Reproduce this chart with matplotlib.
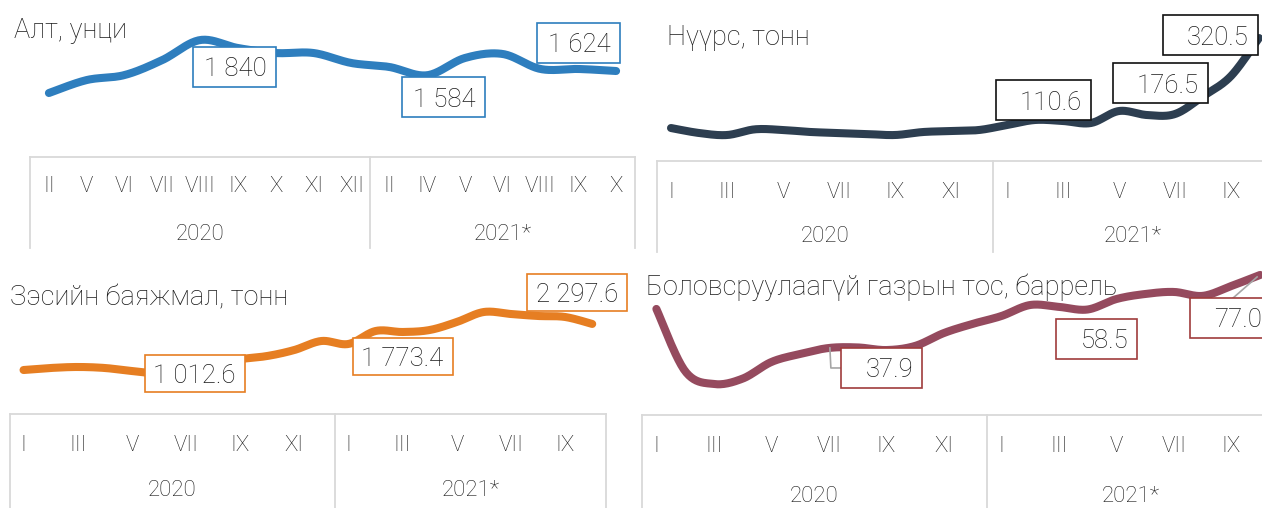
"""
Four small commodity price panels (gold, coal, copper concentrate, crude oil)
with smoothed lines, boxed value labels and a two-level month / year axis.
"""

import numpy as np
import matplotlib
matplotlib.use('Agg')
import matplotlib.pyplot as plt
from matplotlib.patches import Rectangle

# ---- data -------------------------------------------------------------
years = ['2020', '2021*']

gold_title = 'Алт, унци'
gold_months_2020 = ['II', 'V', 'VI', 'VII', 'VIII', 'IX', 'X', 'XI', 'XII']
gold_months_2021 = ['II', 'IV', 'V', 'VI', 'VIII', 'IX', 'X']
gold_values = [1417, 1539, 1586, 1727, 1915, 1840, 1793, 1793, 1699,
               1662, 1584, 1746, 1784, 1643, 1643, 1624]
gold_labeled = [5, 10, 15]

months_2020 = ['I', 'II', 'III', 'IV', 'V', 'VI', 'VII', 'VIII', 'IX', 'X', 'XI', 'XII']
months_2021 = ['I', 'II', 'III', 'IV', 'V', 'VI', 'VII', 'VIII', 'IX', 'X']

coal_title = 'Нүүрс, тонн'
coal_values = [98.2, 85.9, 80.9, 95.0, 93.3, 88.3, 85.9, 83.4, 80.9, 88.3, 90.8,
               93.3, 105.6, 118.0, 115.5, 110.6, 140.2, 130.3, 132.8, 176.5, 226.6, 320.5]
coal_labeled = [15, 19, 21]

copper_title = 'Зэсийн баяжмал, тонн'
copper_values = [1091, 1144, 1170, 1144, 1065, 1012.6, 1170, 1301, 1379, 1458, 1615,
                 1851, 1773.4, 2113, 2087, 2139, 2349, 2611, 2558, 2506, 2480, 2297.6]
copper_labeled = [5, 12, 21]

oil_title = 'Боловсруулаагүй газрын тос, баррель'
oil_values = [58.8, 25.5, 18.6, 21.5, 30.4, 34.7, 37.9, 38.2, 36.8, 39.0, 45.9,
              50.8, 55.0, 60.9, 59.9, 58.5, 64.1, 66.8, 67.9, 65.8, 71.1, 77.0]
oil_labeled = [6, 15, 21]

# ---- style ------------------------------------------------------------
W, H = 1262, 508
text_color = '#1a1a1a'
grid_color = '#d9d9d9'
leader_color = '#a6a6a6'
plt.rcParams['font.family'] = ['Roboto', 'DejaVu Sans']
plt.rcParams['font.weight'] = 'light'

fig = plt.figure(figsize=(W / 100, H / 100), dpi=100)
fig.patch.set_facecolor('white')


def px_axes(x0, y0, x1, y1):
    """Axes from image pixel box (y measured from the top)."""
    ax = fig.add_axes([x0 / W, 1 - y1 / H, (x1 - x0) / W, (y1 - y0) / H])
    ax.set_axis_off()
    return ax


def smooth(xs, ys, n=24):
    """Excel-like smoothed line (Catmull-Rom bezier through the points)."""
    pts = np.column_stack([xs, ys]).astype(float)
    p = np.vstack([pts[0], pts, pts[-1]])
    t = np.linspace(0, 1, n)[:, None]
    out = []
    for k in range(len(pts) - 1):
        p0, p1, p2, p3 = p[k], p[k + 1], p[k + 2], p[k + 3]
        c1 = p1 + (p2 - p0) / 6
        c2 = p2 - (p3 - p1) / 6
        seg = (1 - t) ** 3 * p1 + 3 * (1 - t) ** 2 * t * c1 + 3 * (1 - t) * t ** 2 * c2 + t ** 3 * p2
        out.append(seg if k == 0 else seg[1:])
    return np.vstack(out)


def fmt(v, dec):
    return f'{v:,.{dec}f}'.replace(',', ' ')


def draw_panel(title, values, m2020, m2021, color, box_color, x0, x1, ytop, ybot,
               vlim, table_top, table_bot, month_y, year_y, step, title_xy,
               labeled, offsets, box_w, box_h, dec, leaders=()):
    n = len(values)
    x = np.arange(n)

    # line area
    ax = px_axes(x0, ytop, x1, ybot)
    ax.set_xlim(-0.5, n - 0.5)
    ax.set_ylim(*vlim)
    curve = smooth(x, values)
    ax.plot(curve[:, 0], curve[:, 1], color=color, lw=5.8,
            solid_capstyle='round', clip_on=False, zorder=2)

    fig.text(title_xy[0] / W, 1 - title_xy[1] / H, title, fontsize=19.5,
             color=text_color, ha='left', va='baseline', fontweight='light')

    # value boxes
    for k, (i, (dx, dy)) in enumerate(zip(labeled, offsets)):
        px, py = ax.transData.transform((i, values[i]))
        cx, cy = px + dx, py - dy
        rect = Rectangle(((cx - box_w / 2) / W, (cy - box_h / 2) / H), box_w / W, box_h / H,
                         transform=fig.transFigure, facecolor='white',
                         edgecolor=box_color, lw=1.2, zorder=5)
        fig.add_artist(rect)
        fig.text((cx + box_w / 2 - 9) / W, cy / H, fmt(values[i], dec), fontsize=18.5,
                 color=text_color, ha='right', va='center_baseline', zorder=6,
                 fontweight='light')
        if k in leaders:
            if leaders[k] == 'down':
                xs = [px + 1, px + 2, cx - box_w / 2]
                ys = [py, cy, cy]
            else:
                xs = [cx + 3, px - 3]
                ys = [cy + box_h / 2, py - 2]
            fig.add_artist(plt.Line2D(np.array(xs) / W, np.array(ys) / H,
                                      transform=fig.transFigure, color=leader_color,
                                      lw=1.2, zorder=3))

    # category table
    n20 = len(m2020)
    ta = px_axes(x0, table_top, x1, table_bot)
    ta.set_xlim(-0.5, n - 0.5)
    ta.set_ylim(table_bot, table_top)
    ta.plot([-0.5, n - 0.5], [table_top, table_top], color=grid_color, lw=1.3, clip_on=False)
    for xv in (-0.5, n20 - 0.5, n - 0.5):
        ta.plot([xv, xv], [table_top, table_bot], color=grid_color, lw=1.3, clip_on=False)
    labels = list(m2020) + list(m2021)
    for i in range(0, n, step):
        ta.text(i, month_y, labels[i], fontsize=16, color=text_color,
                ha='center', va='center', fontweight='light')
    ta.text((n20 - 1) / 2, year_y, years[0], fontsize=16, color=text_color,
            ha='center', va='center', fontweight='light')
    ta.text(n20 + (n - n20 - 1) / 2, year_y, years[1], fontsize=16, color=text_color,
            ha='center', va='center', fontweight='light')


# gold (top left)
draw_panel(gold_title, gold_values, gold_months_2020, gold_months_2021,
           '#2e7ebe', '#2e7ebe', 30, 635, 20, 120, (1163.4, 2103.4),
           157, 248, 187, 234, 1, (14, 38),
           gold_labeled, [(-3.5, 18.5), (16, 22), (-38, -28.5)], 83, 40, 0)

# coal (top right)
draw_panel(coal_title, coal_values, months_2020, months_2021,
           '#2d3e50', '#111111', 657, 657 + 22 * 28, 20, 150, (43.9, 365.0),
           161, 252, 192, 237, 2, (667, 45),
           coal_labeled, [(-48, -22.5), (-43, -13), (-49, -3)], 95, 40, 1)

# copper concentrate (bottom left)
draw_panel(copper_title, copper_values, months_2020, months_2021,
           '#e67e22', '#e67e22', 10, 10 + 22 * 27.08, 270, 400, (305.2, 3711.0),
           414, 508, 445, 490, 2, (10, 305),
           copper_labeled, [(36, 0.5), (54, 13), (-15, -31)], 100, 37, 1)

# crude oil (bottom right)
draw_panel(oil_title, oil_values, months_2020, months_2021,
           '#954a5e', '#a03c3c', 642, 642 + 22 * 28.75, 260, 400, (10.05, 85.0),
           415, 508, 447, 497, 2, (646, 295),
           oil_labeled, [(53, 20), (9, 29.5), (-30, 43)], 81, 40, 1,
           leaders={0: 'down', 2: 'up'})

fig.savefig('out.png', dpi=100, facecolor='white')
plt.close(fig)
